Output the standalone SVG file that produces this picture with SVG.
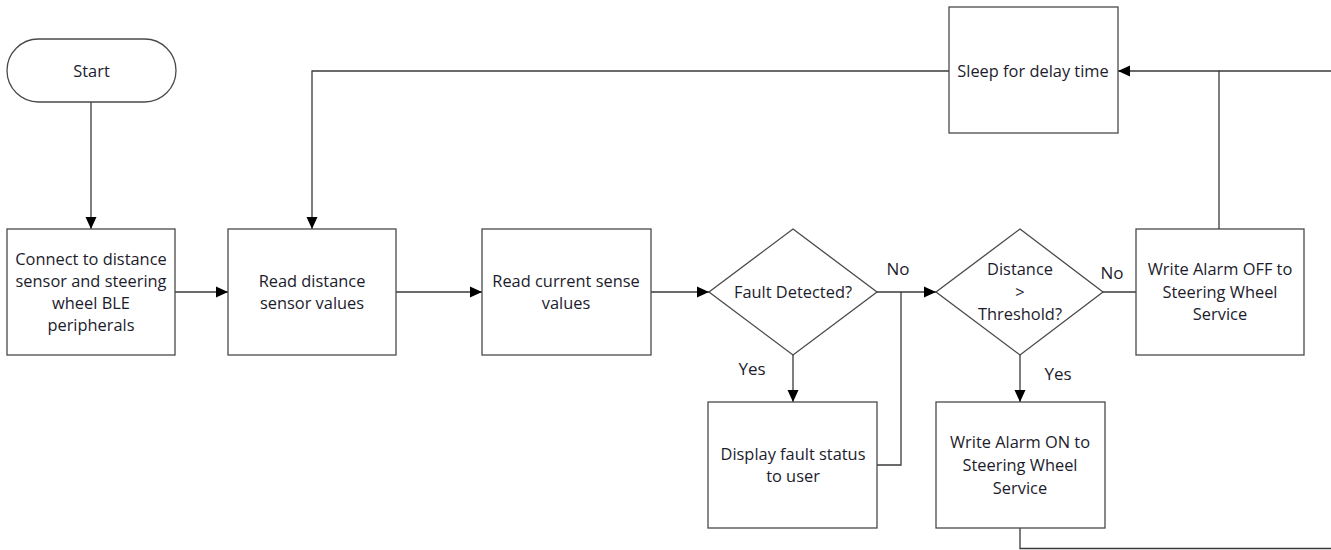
<svg xmlns="http://www.w3.org/2000/svg" width="1331" height="550" viewBox="0 0 1331 550">
<style>
.n{fill:#fff;stroke:#4a4a4a;stroke-width:1.3}
.t{font-family:"Open Sans","Noto Sans",sans-serif;font-size:16.4px;fill:#1c1c2c;text-anchor:middle}
.l{font-family:"Open Sans","Noto Sans",sans-serif;font-size:17px;fill:#1c1c2c;text-anchor:middle}
.c{fill:none;stroke:#3a3a3a;stroke-width:1.3}
</style>
<defs>
<marker id="a" viewBox="0 0 12 12" refX="12" refY="6" markerWidth="12" markerHeight="12" markerUnits="userSpaceOnUse" orient="auto">
<path d="M0,0.5 L12,6 L0,11.5 Z" fill="#000"/>
</marker>
</defs>
<rect width="1331" height="550" fill="#fff"/>
<g id="connectors">
<path class="c" d="M91,102 V229" marker-end="url(#a)"/>
<path class="c" d="M175,292 H228" marker-end="url(#a)"/>
<path class="c" d="M396,292 H482" marker-end="url(#a)"/>
<path class="c" d="M651,292 H709" marker-end="url(#a)"/>
<path class="c" d="M793,355 V402" marker-end="url(#a)"/>
<path class="c" d="M877,292 H936" marker-end="url(#a)"/>
<path class="c" d="M877,465 H901 V292"/>
<path class="c" d="M1020,355 V402" marker-end="url(#a)"/>
<path class="c" d="M1103,292 H1136"/>
<path class="c" d="M1219,229 V71 H1118" marker-end="url(#a)"/>
<path class="c" d="M1020,528 V548.5 H1331"/>
<path class="c" d="M1331,71 H1219"/>
<path class="c" d="M949,71 H312 V229" marker-end="url(#a)"/>
<text class="l" x="898" y="275">No</text>
<text class="l" x="1112" y="279">No</text>
<text class="l" x="752" y="375">Yes</text>
<text class="l" x="1058" y="380">Yes</text>
</g>
<g id="start">
<rect class="n" x="7" y="39" width="169" height="63" rx="31.5"/>
<text class="t" x="91.5" y="77">Start</text>
</g>
<g id="connect">
<rect class="n" x="7" y="229" width="168" height="126"/>
<text class="t" x="91" y="265">Connect to distance</text>
<text class="t" x="91" y="287">sensor and steering</text>
<text class="t" x="91" y="309">wheel BLE</text>
<text class="t" x="91" y="331">peripherals</text>
</g>
<g id="readDistance">
<rect class="n" x="228" y="229" width="168" height="126"/>
<text class="t" x="312" y="287">Read distance</text>
<text class="t" x="312" y="309">sensor values</text>
</g>
<g id="readCurrent">
<rect class="n" x="482" y="229" width="169" height="126"/>
<text class="t" x="566" y="287">Read current sense</text>
<text class="t" x="566" y="309">values</text>
</g>
<g id="fault">
<path class="n" d="M793,229 L877,292 L793,355 L709,292 Z"/>
<text class="t" x="793" y="298">Fault Detected?</text>
</g>
<g id="display">
<rect class="n" x="708" y="402" width="169" height="126"/>
<text class="t" x="793" y="460">Display fault status</text>
<text class="t" x="793" y="482">to user</text>
</g>
<g id="distance">
<path class="n" d="M1020,229 L1103,292 L1020,355 L936,292 Z"/>
<text class="t" x="1020" y="275">Distance</text>
<text class="t" x="1020" y="298">&gt;</text>
<text class="t" x="1020" y="320">Threshold?</text>
</g>
<g id="alarmOn">
<rect class="n" x="936" y="402" width="169" height="126"/>
<text class="t" x="1020" y="448">Write Alarm ON to</text>
<text class="t" x="1020" y="471">Steering Wheel</text>
<text class="t" x="1020" y="494">Service</text>
</g>
<g id="alarmOff">
<rect class="n" x="1136" y="229" width="168" height="126"/>
<text class="t" x="1220" y="275">Write Alarm OFF to</text>
<text class="t" x="1220" y="298">Steering Wheel</text>
<text class="t" x="1220" y="320">Service</text>
</g>
<g id="sleep">
<rect class="n" x="949" y="7" width="169" height="126"/>
<text class="t" x="1033" y="77">Sleep for delay time</text>
</g>
</svg>
